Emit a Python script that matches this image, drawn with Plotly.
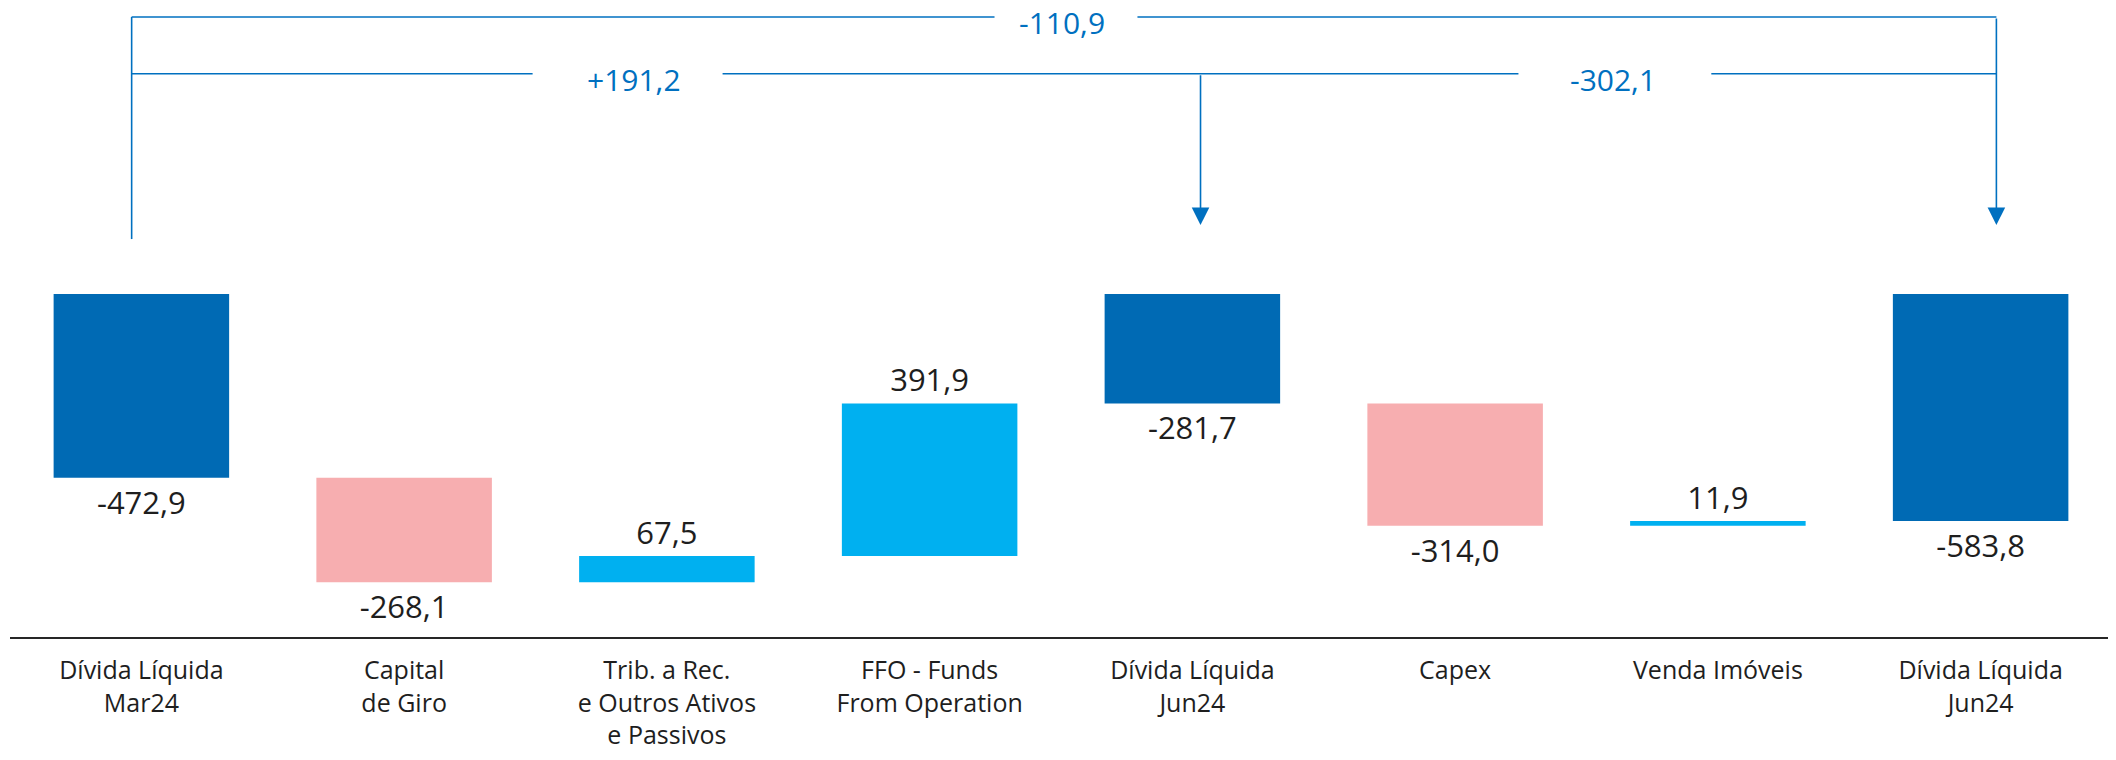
import plotly.graph_objects as go

# categories and values (R$ milhões)
categories = [
    "Dívida Líquida<br>Mar24",
    "Capital<br>de Giro",
    "Trib. a Rec.<br>e Outros Ativos<br>e Passivos",
    "FFO - Funds<br>From Operation",
    "Dívida Líquida<br>Jun24",
    "Capex",
    "Venda Imóveis",
    "Dívida Líquida<br>Jun24",
]
values = [-472.9, -268.1, 67.5, 391.9, -281.7, -314.0, 11.9, -583.8]
measures = ["absolute", "relative", "relative", "relative",
            "absolute", "relative", "relative", "absolute"]

# bracket variations shown above the bars
var_labels = ["-110,9", "+191,2", "-302,1"]

BLUE_DARK = "#006AB4"
BLUE_LIGHT = "#00B0F0"
PINK = "#F7AEB0"
LINE_BLUE = "#0070C0"
TXT = "#1e1e1e"
FONT = "Open Sans"


def fmt(v):
    return f"{v:.1f}".replace(".", ",")


x = list(range(len(categories)))

fig = go.Figure(go.Waterfall(
    x=x,
    y=values,
    measure=measures,
    text=[fmt(v) for v in values],
    texttemplate="%{text}",
    textposition="outside",
    textfont=dict(family=FONT, size=31, color=TXT),
    increasing=dict(marker=dict(color=BLUE_LIGHT)),
    decreasing=dict(marker=dict(color=PINK)),
    totals=dict(marker=dict(color=BLUE_DARK)),
    connector=dict(visible=False),
    width=0.668,
    cliponaxis=False,
    showlegend=False,
))

# bracket geometry (data units)
y_top = 712
y_mid = 566
x_left, x_mid, x_right = -0.037, 4.031, 7.06
line = dict(color=LINE_BLUE, width=1.6)

shapes = [
    # outer bracket (-110,9)
    dict(type="line", x0=x_left, x1=x_left, y0=141, y1=y_top, line=line),
    dict(type="line", x0=x_left, x1=3.247, y0=y_top, y1=y_top, line=line),
    dict(type="line", x0=3.791, x1=x_right, y0=y_top, y1=y_top, line=line),
    # +191,2
    dict(type="line", x0=x_left, x1=1.489, y0=y_mid, y1=y_mid, line=line),
    dict(type="line", x0=2.212, x1=5.241, y0=y_mid, y1=y_mid, line=line),
    # -302,1
    dict(type="line", x0=5.975, x1=x_right, y0=y_mid, y1=y_mid, line=line),
]

annotations = []
for xa, ytail in [(x_mid, y_mid), (x_right, y_top)]:
    annotations.append(dict(
        x=xa, y=177, ax=xa, ay=ytail, xref="x", yref="y", axref="x", ayref="y",
        text="", showarrow=True, arrowhead=2, arrowsize=2.2, arrowwidth=1.6,
        arrowcolor=LINE_BLUE,
    ))

for xt, yt, lbl in [(3.502, 698, var_labels[0]),
                    (1.874, 552, var_labels[1]),
                    (5.602, 552, var_labels[2])]:
    annotations.append(dict(
        x=xt, y=yt, xref="x", yref="y", text=lbl, showarrow=False,
        font=dict(family=FONT, size=30, color=LINE_BLUE),
    ))

# page body adds an 8px offset, so the figure is 8px smaller
fig.update_layout(
    width=2108, height=752,
    margin=dict(l=2, r=4, t=0, b=123),
    plot_bgcolor="white", paper_bgcolor="white",
    separators=",.",
    font=dict(family=FONT, color=TXT),
    shapes=shapes,
    annotations=annotations,
    xaxis=dict(
        range=[-0.5, 7.5],
        tickvals=x, ticktext=categories,
        tickfont=dict(family=FONT, size=25, color=TXT),
        showline=True, linecolor="#262626", linewidth=2,
        ticks="outside", ticklen=10, tickcolor="rgba(0,0,0,0)",
        showgrid=False, zeroline=False,
    ),
    yaxis=dict(
        range=[-882, 735],
        visible=False, showgrid=False, zeroline=False,
    ),
)

fig.write_html("out.html")
